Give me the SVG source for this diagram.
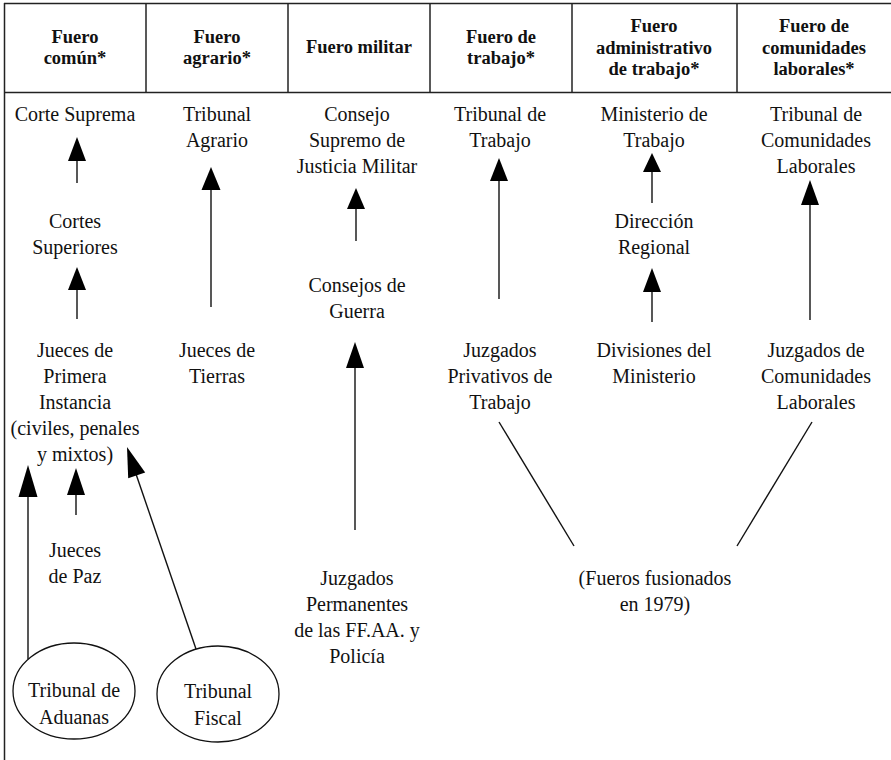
<svg xmlns="http://www.w3.org/2000/svg" width="891" height="760" viewBox="0 0 891 760">
<style>
.grid{stroke:#222;stroke-width:1.5;fill:none}
.hd{font-family:"Liberation Serif",serif;font-weight:bold;font-size:18.5px;fill:#111;text-anchor:middle}
.tx{font-family:"Liberation Serif",serif;font-size:20px;fill:#111;text-anchor:middle}
.ln{stroke:#111;stroke-width:1.4;fill:none}
.ah{fill:#000;stroke:none}
.el{fill:#fff;stroke:#111;stroke-width:1.3}
</style>
<rect width="891" height="760" fill="#fff"/>
<g id="table">
<line class="grid" x1="4" y1="3.5" x2="891" y2="3.5"/>
<line class="grid" x1="4" y1="92.5" x2="891" y2="92.5"/>
<line class="grid" x1="4.5" y1="3" x2="4.5" y2="760"/>
<line class="grid" x1="146" y1="3" x2="146" y2="92"/>
<line class="grid" x1="288" y1="3" x2="288" y2="92"/>
<line class="grid" x1="430" y1="3" x2="430" y2="92"/>
<line class="grid" x1="572" y1="3" x2="572" y2="92"/>
<line class="grid" x1="737" y1="3" x2="737" y2="92"/>
</g>
<g id="headers">
<text class="hd" x="75" y="43">Fuero</text><text class="hd" x="75" y="64">común*</text>
<text class="hd" x="217" y="43">Fuero</text><text class="hd" x="217" y="64">agrario*</text>
<text class="hd" x="359" y="53">Fuero militar</text>
<text class="hd" x="501" y="43">Fuero de</text><text class="hd" x="501" y="64">trabajo*</text>
<text class="hd" x="654" y="32">Fuero</text><text class="hd" x="654" y="53.5">administrativo</text><text class="hd" x="654" y="75">de trabajo*</text>
<text class="hd" x="814" y="32">Fuero de</text><text class="hd" x="814" y="53.5">comunidades</text><text class="hd" x="814" y="75">laborales*</text>
</g>
<g id="connectors">
<line class="ln" x1="77" y1="183" x2="77" y2="160"/><polygon class="ah" points="77,137 68,161 86,161"/>
<line class="ln" x1="77" y1="319" x2="77" y2="289"/><polygon class="ah" points="77,267 68,290 86,290"/>
<line class="ln" x1="28" y1="659" x2="28" y2="496"/><polygon class="ah" points="28,465 18.5,497 37.5,497"/>
<line class="ln" x1="76" y1="515" x2="76" y2="494"/><polygon class="ah" points="76,468 67,495 85,495"/>
<line class="ln" x1="196" y1="649" x2="136" y2="474"/><polygon class="ah" points="127,447 145.2,472.5 128.2,478.3"/>
<line class="ln" x1="211" y1="307" x2="211" y2="189"/><polygon class="ah" points="211,167 201.5,190 220.5,190"/>
<line class="ln" x1="356" y1="241" x2="356" y2="208"/><polygon class="ah" points="356,188 347,209 365,209"/>
<line class="ln" x1="355" y1="530" x2="355" y2="367"/><polygon class="ah" points="355,342 346,368 364,368"/>
<line class="ln" x1="499" y1="299" x2="499" y2="180"/><polygon class="ah" points="499,158 490,181 508,181"/>
<line class="ln" x1="652" y1="203" x2="652" y2="171"/><polygon class="ah" points="652,153 643,172 661,172"/>
<line class="ln" x1="652" y1="322" x2="652" y2="291"/><polygon class="ah" points="652,268 643,292 661,292"/>
<line class="ln" x1="810" y1="320" x2="810" y2="204"/><polygon class="ah" points="810,180 801,205 819,205"/>
<line class="ln" x1="499" y1="422" x2="574" y2="546"/>
<line class="ln" x1="812" y1="422" x2="737" y2="546"/>
</g>
<g id="corte-suprema"><text class="tx" x="75" y="121">Corte Suprema</text></g>
<g id="cortes-superiores"><text class="tx" x="75" y="228">Cortes</text><text class="tx" x="75" y="254">Superiores</text></g>
<g id="jueces-primera"><text class="tx" x="75" y="357">Jueces de</text><text class="tx" x="75" y="383">Primera</text><text class="tx" x="75" y="409">Instancia</text><text class="tx" x="75" y="435">(civiles, penales</text><text class="tx" x="75" y="461">y mixtos)</text></g>
<g id="jueces-paz"><text class="tx" x="75" y="557">Jueces</text><text class="tx" x="75" y="583">de Paz</text></g>
<g id="tribunal-aduanas"><ellipse class="el" cx="74" cy="691" rx="61" ry="48"/><text class="tx" x="74" y="697">Tribunal de</text><text class="tx" x="74" y="724">Aduanas</text></g>
<g id="tribunal-fiscal"><ellipse class="el" cx="218" cy="694" rx="61" ry="48"/><text class="tx" x="218" y="698">Tribunal</text><text class="tx" x="218" y="725">Fiscal</text></g>
<g id="tribunal-agrario"><text class="tx" x="217" y="121">Tribunal</text><text class="tx" x="217" y="147">Agrario</text></g>
<g id="jueces-tierras"><text class="tx" x="217" y="357">Jueces de</text><text class="tx" x="217" y="383">Tierras</text></g>
<g id="consejo-supremo"><text class="tx" x="357" y="121">Consejo</text><text class="tx" x="357" y="147">Supremo de</text><text class="tx" x="357" y="173">Justicia Militar</text></g>
<g id="consejos-guerra"><text class="tx" x="357" y="292">Consejos de</text><text class="tx" x="357" y="318">Guerra</text></g>
<g id="juzgados-permanentes"><text class="tx" x="357" y="585">Juzgados</text><text class="tx" x="357" y="611">Permanentes</text><text class="tx" x="357" y="637">de las FF.AA. y</text><text class="tx" x="357" y="663">Policía</text></g>
<g id="tribunal-trabajo"><text class="tx" x="500" y="121">Tribunal de</text><text class="tx" x="500" y="147">Trabajo</text></g>
<g id="juzgados-privativos"><text class="tx" x="500" y="357">Juzgados</text><text class="tx" x="500" y="383">Privativos de</text><text class="tx" x="500" y="409">Trabajo</text></g>
<g id="ministerio-trabajo"><text class="tx" x="654" y="121">Ministerio de</text><text class="tx" x="654" y="147">Trabajo</text></g>
<g id="direccion-regional"><text class="tx" x="654" y="228">Dirección</text><text class="tx" x="654" y="254">Regional</text></g>
<g id="divisiones-ministerio"><text class="tx" x="654" y="357">Divisiones del</text><text class="tx" x="654" y="383">Ministerio</text></g>
<g id="tribunal-comunidades"><text class="tx" x="816" y="121">Tribunal de</text><text class="tx" x="816" y="147">Comunidades</text><text class="tx" x="816" y="173">Laborales</text></g>
<g id="juzgados-comunidades"><text class="tx" x="816" y="357">Juzgados de</text><text class="tx" x="816" y="383">Comunidades</text><text class="tx" x="816" y="409">Laborales</text></g>
<g id="fueros-fusionados"><text class="tx" x="655" y="585">(Fueros fusionados</text><text class="tx" x="655" y="611">en 1979)</text></g>
</svg>
